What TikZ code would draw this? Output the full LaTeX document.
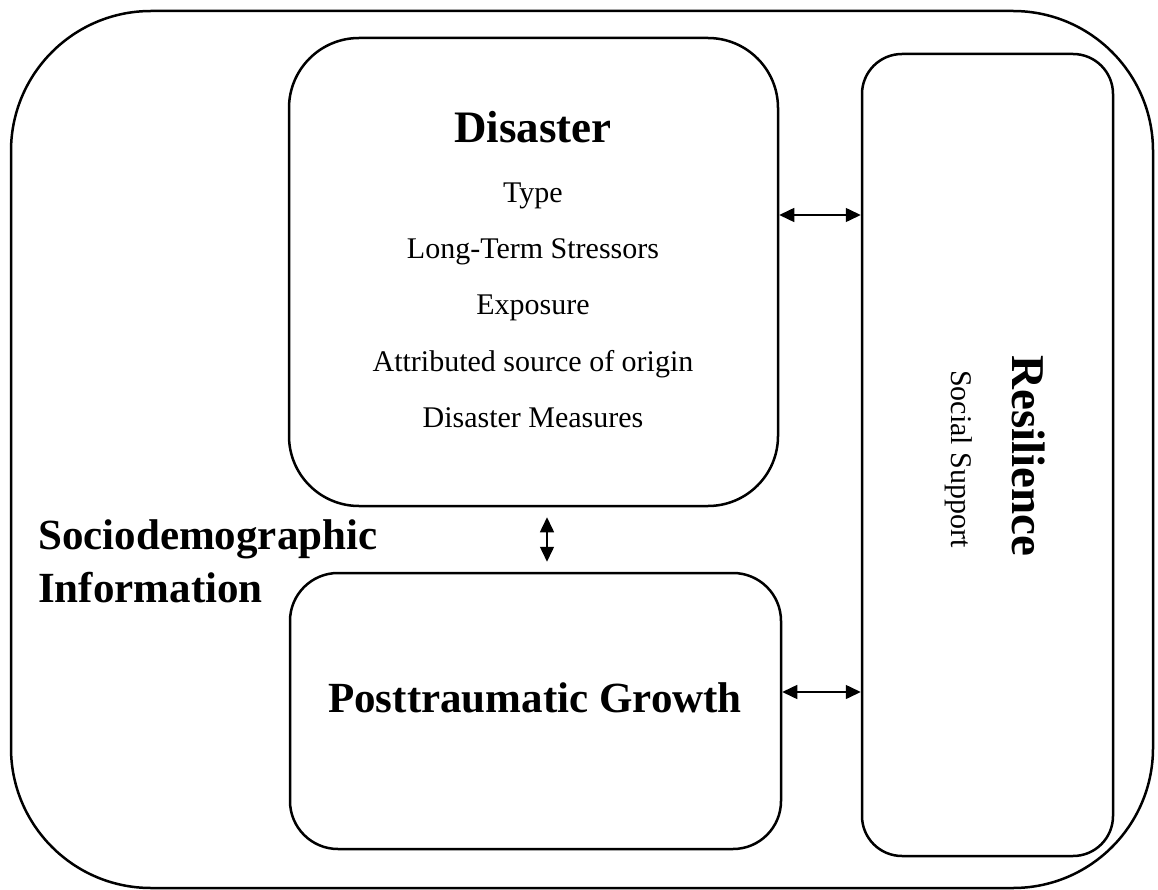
\documentclass[tikz,border=0pt]{standalone}
\usepackage{fontspec}
\setmainfont{Liberation Serif}
\usetikzlibrary{arrows.meta,positioning}
\newcommand{\headfont}{\fontsize{45}{54}\selectfont\bfseries}
\newcommand{\itemfont}{\fontsize{30}{36}\selectfont}
\tikzset{
  panel/.style={
    draw=black,
    line width=2.5pt,
    inner sep=0pt,
    rounded corners=#1
  },
  panel/.default=50pt,
  twoway/.style={{Triangle[length=15pt,width=14pt]}-{Triangle[length=15pt,width=14pt]}, line width=1.5pt},
  head/.style={font=\headfont, inner sep=0pt, anchor=base},
  item/.style={font=\itemfont, inner sep=0pt, anchor=base}
}

\begin{document}
\begin{tikzpicture}[x=1pt, y=-1pt]
\useasboundingbox (0,0) rectangle (1158,890);

% --- Boxes ---
\node[panel=140pt, minimum width=1142pt, minimum height=877pt] (frame) at (582,449.5) {};
\node[panel=70pt, minimum width=489pt, minimum height=468pt] (disaster) at (533.5,272) {};
\node[panel=48pt, minimum width=491pt, minimum height=276pt] (growth) at (535.5,711) {};
\node[panel=40pt, minimum width=251pt, minimum height=802pt] (resil) at (987.5,455) {};

% --- Disaster contents ---
\node[head] (distitle) at (533,143) {Disaster};
\node[item] (type) at (533,203) {Type};
\node[item] (stress) at (533,259) {Long-Term Stressors};
\node[item] (expo) at (533,315) {Exposure};
\node[item] (origin) at (533,371) {Attributed source of origin};
\node[item] (measures) at (533,427) {Disaster Measures};

% --- Other labels ---
\node[head, font=\fontsize{43}{52}\selectfont\bfseries, anchor=base west] (socio) at (38,549) {Sociodemographic};
\node[head, font=\fontsize{43}{52}\selectfont\bfseries, anchor=base west] (info) at (38,602) {Information};
\node[head, font=\fontsize{43}{52}\selectfont\bfseries] (growthtxt) at (535,712) {Posttraumatic Growth};
\node[head, font=\fontsize{47}{56}\selectfont\bfseries, rotate=-90] (resiltxt) at (1012,456) {Resilience};
\node[item, rotate=-90] (support) at (951,459) {Social Support};

% --- Connectors ---
\draw[twoway] (disaster.east |- 0,215) -- (resil.west |- 0,215);
\draw[twoway] (growth.east |- 0,692) -- (resil.west |- 0,692);
\draw[twoway, shorten <=10pt, shorten >=10pt] (disaster.south -| 547,0) -- (growth.north -| 547,0);

\end{tikzpicture}
\end{document}
